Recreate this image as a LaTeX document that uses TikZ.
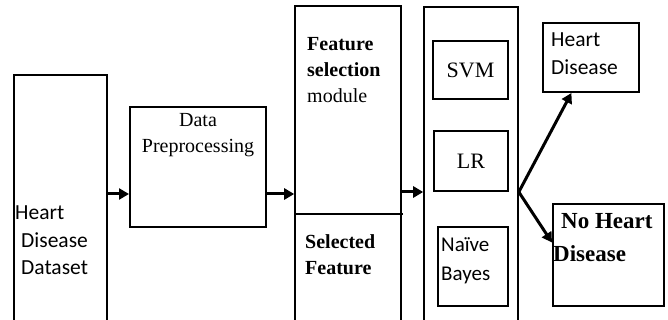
\documentclass[tikz,border=0pt]{standalone}
\usepackage{fontspec}
\setmainfont{Liberation Serif}
\setsansfont{Carlito}
\usetikzlibrary{positioning,calc,arrows.meta}

\tikzset{
  box/.style={draw, rectangle, line width=2pt, inner sep=0pt},
  frame/.style={draw, rectangle, line width=1.6pt, inner sep=0pt},
  txt/.style={inner sep=0pt, align=left},
  flow/.style={line width=3pt, -{Triangle[length=10pt, width=11pt]}},
}

\begin{document}
\begin{tikzpicture}[x=1pt, y=-1pt]
  \clip (0,0) rectangle (668,320);
  % tall boxes, cut off at the bottom edge
  \node[box, minimum width=93pt, minimum height=270pt] (data) at (60.5,210) {};
  \node[box, minimum width=136pt, minimum height=120pt] (prep) at (198,167) {};
  \node[frame, minimum width=106pt, minimum height=339pt] (feat) at (348,175.5) {};
  \node[frame, minimum width=94pt, minimum height=338pt] (clf) at (471,176) {};

  % classifiers
  \node[box, minimum width=75pt, minimum height=58pt, font=\fontsize{22}{26}\selectfont] (svm) at (470.5,70) {SVM};
  \node[box, minimum width=74pt, minimum height=60pt, font=\fontsize{22}{26}\selectfont] (lr) at (471,161) {LR};
  \node[box, minimum width=70pt, minimum height=79pt] (nb) at (473,266.5) {};

  % outcomes
  \node[box, minimum width=96pt, minimum height=69pt] (hd) at (591,57.5) {};
  \node[box, minimum width=111pt, minimum height=102pt] (nhd) at (608.5,255) {};

  % labels
  \node[txt, anchor=north west, font=\sffamily\fontsize{21.5}{27.5}\selectfont] (datal) at (15,206) {Heart\\\hspace*{6pt}Disease\\\hspace*{6pt}Dataset};
  \node[txt, align=center, anchor=north, font=\fontsize{20}{26}\selectfont] (prepl) at (198,113) {Data\\Preprocessing};
  \node[txt, anchor=north west, font=\fontsize{20}{26}\selectfont] (featl) at (307,37) {\textbf{Feature}\\\textbf{selection}\\module};
  \node[txt, anchor=north west, font=\bfseries\fontsize{20}{26}\selectfont] (sell) at (305,234) {Selected\\Feature};
  \node[txt, anchor=north west, font=\sffamily\fontsize{21}{29}\selectfont] (nbl) at (441,237) {Naïve\\Bayes};
  \node[txt, anchor=north west, font=\sffamily\fontsize{21.5}{28}\selectfont] (hdl) at (551,33) {Heart\\Disease};
  \node[txt, anchor=north west, font=\bfseries\fontsize{23}{33}\selectfont] (nhdl) at (553,213) {\hspace*{8pt}No Heart\\Disease};

  % split line inside the feature box
  \coordinate (cut) at (0,214);
  \draw[line width=1.6pt] (feat.west |- cut) -- ++(109,0);

  % connectors
  \coordinate (lvl) at (0,194);
  \coordinate (lvl2) at (0,192);
  \coordinate (fork) at (clf.east |- lvl2);
  \draw[flow] (data.east |- lvl) -- (prep.west |- lvl);
  \draw[flow] (prep.east |- lvl) -- (feat.west |- lvl);
  \draw[flow] (feat.east |- lvl2) -- (clf.west |- lvl2);
  \draw[flow] (fork) -- ($(hd.south west)!0.3!(hd.south east)$);
  \draw[flow] (fork) -- ($(nhd.north west)!0.38!(nhd.south west)$);
\end{tikzpicture}
\end{document}
